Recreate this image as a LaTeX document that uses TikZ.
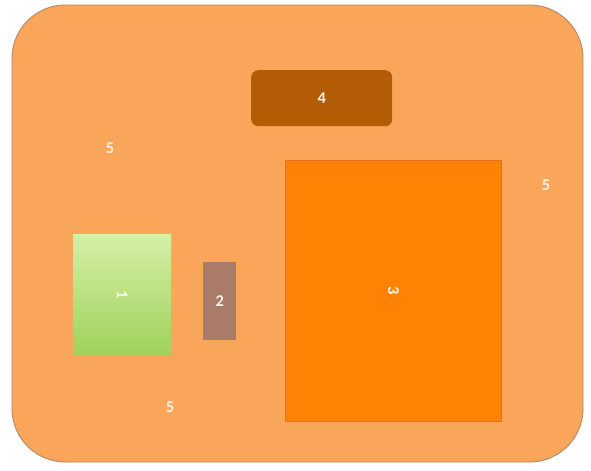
\documentclass[tikz,border=0pt]{standalone}
\usepackage{fontspec}
\setmainfont{Carlito}
\definecolor{zonefill}{HTML}{F9A65B}
\definecolor{zoneline}{HTML}{B38A6A}
\definecolor{bigfill}{HTML}{FF8205}
\definecolor{bigline}{HTML}{E0731A}
\definecolor{topfill}{HTML}{B35C05}
\definecolor{smallfill}{HTML}{A97B68}
\definecolor{greentop}{HTML}{D6EFA6}
\definecolor{greenbot}{HTML}{A0D25C}
\definecolor{labeltext}{HTML}{FFF4E6}
\begin{document}
\begin{tikzpicture}[
      x=0.03cm, y=-0.03cm,
      every node/.style={font=\fontsize{14}{16}\selectfont\bfseries, text=labeltext},
      zone/.style={draw=zoneline, line width=0.8pt, fill=zonefill, rounded corners=1.6cm},
      box/.style={rectangle, inner sep=0pt, anchor=north west},
      tag/.style={inner sep=1pt}
  ]
    \useasboundingbox (0,0) rectangle (591,470);
    \fill[white] (0,0) rectangle (591,470);
    % outer area
    \draw[zone] (12,5) rectangle (583,462);
    % parts
    \node[box, fill=topfill, rounded corners=6pt, minimum width=141*0.03cm, minimum height=56*0.03cm] (part4) at (251,70) {4};
    \node[box, fill=bigfill, draw=bigline, line width=0.8pt, minimum width=216*0.03cm, minimum height=261*0.03cm] (part3) at (285,160) {\rotatebox{-90}{3}};
    \node[box, top color=greentop, bottom color=greenbot, minimum width=98*0.03cm, minimum height=120*0.03cm] (part1) at (73,234) {\rotatebox{-90}{1}};
    \node[box, fill=smallfill, minimum width=33*0.03cm, minimum height=78*0.03cm] (part2) at (203,262) {2};
    % free space
    \node[tag] (free1) at (110,148) {5};
    \node[tag] (free2) at (546,185) {5};
    \node[tag] (free3) at (170,407) {5};
  \end{tikzpicture}
\end{document}
